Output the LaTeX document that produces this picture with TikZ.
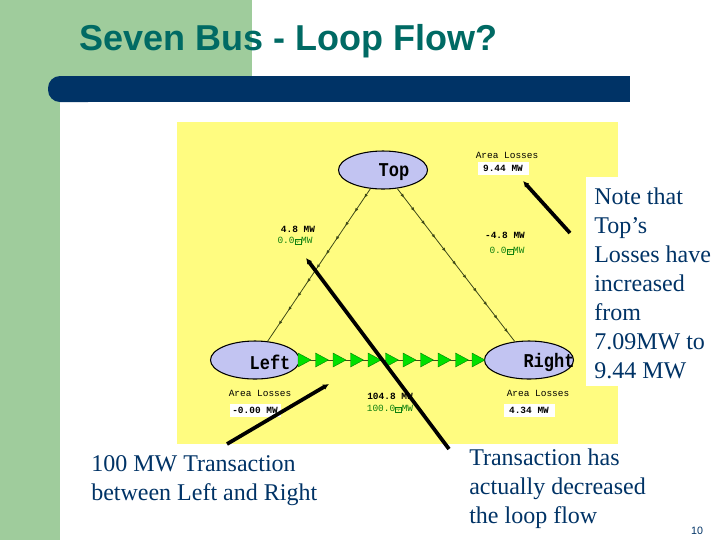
\documentclass[tikz,border=0pt]{standalone}
\usepackage{fontspec}
\setmainfont{Liberation Serif}
\setsansfont{Liberation Sans}
\setmonofont{Liberation Mono}
\usetikzlibrary{arrows.meta, shapes.geometric, decorations.markings}
\definecolor{slideGreen}{HTML}{9FCC9C}
\definecolor{slideNavy}{HTML}{003366}
\definecolor{slideTeal}{HTML}{006A64}
\definecolor{plotYellow}{HTML}{FFFC80}
\definecolor{busBlue}{HTML}{C2C4F2}
\definecolor{flowGreen}{HTML}{00E000}
\definecolor{valueGreen}{HTML}{0F800F}
\definecolor{lineOlive}{HTML}{3F4A18}
\newcommand{\spinbox}{{\setlength{\fboxsep}{0.2pt}\setlength{\fboxrule}{0.3pt}\raisebox{-0.4pt}{\fbox{\fontsize{6.5}{6.5}\selectfont ÷}}}}
\newcommand{\tallname}[1]{\scalebox{1}[1.15]{#1}}
\tikzset{
  bus/.style={draw, line width=0.8pt, ellipse, fill=busBlue, minimum width=66.75pt, minimum height=28.5pt, inner sep=0pt},
  busname/.style={font=\ttfamily\bfseries\fontsize{12.75}{14}\selectfont, inner sep=0pt},
  areatext/.style={font=\ttfamily\fontsize{7.1}{8}\selectfont, inner sep=0pt},
  valuebox/.style={font=\ttfamily\bfseries\fontsize{7.1}{8}\selectfont, fill=white, minimum width=38.25pt, minimum height=9.75pt, inner sep=0pt},
  mwtext/.style={font=\ttfamily\bfseries\fontsize{7.1}{8}\selectfont, inner sep=0pt},
  greentext/.style={font=\ttfamily\fontsize{7.1}{8}\selectfont, inner sep=0pt, text=valueGreen},
  bodytext/.style={font=\fontsize{18}{21.75}\selectfont, text=slideNavy, align=left, inner sep=0pt, anchor=north west},
  pointer/.style={line width=2.8pt, -{Latex[length=4.5pt,width=4.5pt]}},
  flowtip/.style={draw=green!50!black, line width=0.3pt, fill=flowGreen},
  tieline/.style={draw=lineOlive, line width=0.6pt, postaction={decorate}, decoration={markings,
    mark=between positions 0.06 and 0.97 step 12.75pt with {\arrow[lineOlive]{Latex[length=3pt,width=2.5pt]}}}}
}
\begin{document}
\begin{tikzpicture}[x=0.75pt, y=-0.75pt]
    \useasboundingbox (0,0) rectangle (720,540);
    \fill[white] (0,0) rectangle (720,540);
    \fill[slideGreen] (0,0) rectangle (252,102);
    \fill[slideGreen] (0,0) rectangle (60,540);
    \fill[slideNavy, rounded corners=9pt] (48,76) rectangle (100,102);
    \fill[slideNavy] (70,76) rectangle (630,102);
    \node[font=\sffamily\bfseries\fontsize{27}{30}\selectfont, text=slideTeal, anchor=base west, inner sep=0pt] (title) at (79,50) {Seven Bus - Loop Flow?};

    \fill[plotYellow] (177,122) rectangle (618,444);

    \node[bus] (busTop) at (383,170) {};
    \node[bus] (busLeft) at (255,360) {};
    \node[bus] (busRight) at (529,360) {};
    \draw[tieline] (busTop) -- (busLeft);
    \draw[tieline] (busTop) -- (busRight);
    \draw[lineOlive, line width=0.6pt] (busLeft) -- (busRight);
    \foreach \x in {298,315.5,333,350.5,368,385.5,403,420.5,438,455.5,472}
      \draw[flowtip] (\x,353) -- ++(13,7) -- ++(-13,7) -- cycle;

    \node[busname] (nameTop) at (394,172) {\tallname{Top}};
    \node[busname] (nameLeft) at (270,362) {\tallname{Left}};
    \node[busname] (nameRight) at (549,362) {\tallname{Right}};

    \node[areatext] (areaTop) at (507,155) {Area Losses};
    \node[valuebox] (lossTop) at (503,168) {9.44 MW};
    \node[areatext] (areaLeft) at (260,393) {Area Losses};
    \node[valuebox] (lossLeft) at (255,410) {-0.00 MW};
    \node[areatext] (areaRight) at (538,393) {Area Losses};
    \node[valuebox] (lossRight) at (529,410) {4.34 MW};

    \node[mwtext] (mwTopLeft) at (298,229) {4.8 MW};
    \node[greentext] (setTopLeft) at (295,241) {0.0\spinbox MW};
    \node[mwtext] (mwTopRight) at (505,235) {-4.8 MW};
    \node[greentext] (setTopRight) at (507,251) {0.0\spinbox MW};
    \node[mwtext] (mwLeftRight) at (390,396) {104.8 MW};
    \node[greentext] (setLeftRight) at (390,409) {100.0\spinbox MW};

    \fill[white] (586,177) rectangle (720,386);
    \node[bodytext] (noteTop) at (594,188) {Note that\\Top’s\\Losses have\\increased\\from\\7.09MW to\\9.44 MW};
    \node[bodytext] (noteLeft) at (91,455) {100 MW Transaction\\between Left and Right};
    \node[bodytext] (noteFlow) at (469,449) {Transaction has\\actually decreased\\the loop flow};
    \node[font=\sffamily\fontsize{8}{9}\selectfont, text=slideNavy, inner sep=0pt] (pageNo) at (697,531) {10};

    \coordinate (startTop) at (570,233);
    \coordinate (endTop) at (523,181);
    \coordinate (startFlow) at (449,449);
    \coordinate (endFlow) at (306,258);
    \coordinate (startLeft) at (227,444);
    \coordinate (endLeft) at (329,384);
    \draw[pointer] (startTop) -- (endTop);
    \draw[pointer] (startFlow) -- (endFlow);
    \draw[pointer] (startLeft) -- (endLeft);
  \end{tikzpicture}
\end{document}
